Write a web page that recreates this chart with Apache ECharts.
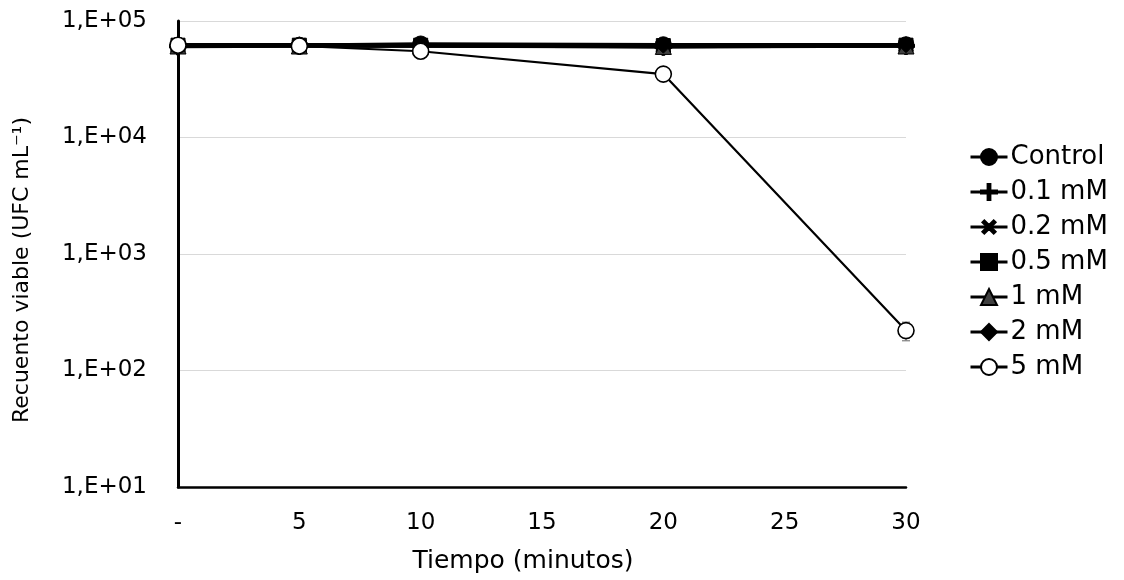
<!DOCTYPE html>
<html><head><meta charset="utf-8">
<script src="https://cdn.jsdelivr.net/npm/echarts@6/dist/echarts.min.js"></script>
<style>html,body{margin:0;padding:0;background:#fff}#c{width:1124px;height:580px}</style>
</head><body><div id="c"></div>
<script>
const times = [0, 5, 10, 20, 30];
const xTicks = ['-', '5', '10', '15', '20', '25', '30'];
const control = [62000, 62000, 63500, 62500, 62500];
const mM01 = [60500, 61000, 61000, 60000, 61000];
const mM02 = [61000, 61500, 61500, 60500, 61500];
const mM05 = [62000, 62000, 62000, 61500, 62000];
const mM1 = [61000, 61000, 61000, 60500, 61000];
const mM2 = [62500, 62500, 62500, 62000, 62500];
const mM5 = [62000, 61000, 55000, 35000, 220];
const mM5err = [0, 0, 0, 0, 40];
const names = ['Control', '0.1 mM', '0.2 mM', '0.5 mM', '1 mM', '2 mM', '5 mM'];

const FONT = 'DejaVu Sans';
const plus = 'path://M3.3,0 H4.7 V3.3 H8 V4.7 H4.7 V8 H3.3 V4.7 H0 V3.3 H3.3 Z';
const pair = arr => times.map((t, i) => [t, arr[i]]);

function lineSeries(name, data, symbol, size, fill, extra) {
  return Object.assign({
    name, type: 'line', data: pair(data), symbol, symbolSize: size,
    lineStyle: { color: '#000', width: 3.5 },
    itemStyle: { color: fill, borderColor: '#000', borderWidth: 1 },
    z: 2
  }, extra || {});
}

const series = [
  lineSeries(names[0], control, 'circle', 16, '#000'),
  lineSeries(names[1], mM01, plus, 17, '#000'),
  lineSeries(names[2], mM02, plus, 17, '#000', { symbolRotate: 45 }),
  lineSeries(names[3], mM05, 'rect', 14, '#000'),
  lineSeries(names[4], mM1, 'triangle', 16, '#404040'),
  lineSeries(names[5], mM2, 'diamond', 16, '#000'),
  lineSeries(names[6], mM5, 'circle', 16, '#fff', {
    lineStyle: { color: '#000', width: 2.2 },
    itemStyle: { color: '#fff', borderColor: '#000', borderWidth: 1.6 },
    z: 4
  }),
  {
    type: 'custom', name: 'err', silent: true, z: 3,
    data: times.map((t, i) => [t, mM5[i] - mM5err[i], mM5[i] + mM5err[i]]),
    renderItem: function (params, api) {
      const lo = api.coord([api.value(0), api.value(1)]);
      const hi = api.coord([api.value(0), api.value(2)]);
      const w = 4;
      const st = { stroke: '#7f7f7f', lineWidth: 1.2 };
      return { type: 'group', children: [
        { type: 'line', shape: { x1: lo[0], y1: lo[1], x2: hi[0], y2: hi[1] }, style: st },
        { type: 'line', shape: { x1: lo[0] - w, y1: lo[1], x2: lo[0] + w, y2: lo[1] }, style: st },
        { type: 'line', shape: { x1: hi[0] - w, y1: hi[1], x2: hi[0] + w, y2: hi[1] }, style: st }
      ]};
    }
  }
];

const chart = echarts.init(document.getElementById('c'), null, { renderer: 'canvas' });
chart.setOption({
  animation: false,
  backgroundColor: '#fff',
  textStyle: { fontFamily: FONT },
  grid: { left: 178, right: 218, top: 21, bottom: 93, containLabel: false },
  legend: {
    data: names,
    orient: 'vertical',
    left: 969, top: 144, padding: 0,
    itemWidth: 37, itemHeight: 20, itemGap: 9,
    lineStyle: { width: 3 },
    textStyle: { fontFamily: FONT, fontSize: 26, color: '#000', padding: [0, 0, 0, -2] },
    inactiveColor: '#ccc'
  },
  xAxis: {
    type: 'value', min: 0, max: 30, interval: 5,
    axisLine: { show: true, onZero: false, lineStyle: { color: '#000', width: 2.5 } },
    axisTick: { show: false },
    splitLine: { show: false },
    axisLabel: { fontSize: 23, color: '#000', fontFamily: FONT, margin: 25,
      formatter: v => xTicks[Math.round(v / 5)] },
    name: 'Tiempo (minutos)', nameLocation: 'middle', nameGap: 62,
    nameTextStyle: { fontSize: 25, color: '#000', fontFamily: FONT, padding: [0, 38, 0, 0] }
  },
  yAxis: {
    type: 'log', logBase: 10, min: 10, max: 100000,
    axisLine: { show: true, lineStyle: { color: '#000', width: 3 } },
    axisTick: { show: false },
    splitLine: { show: true, lineStyle: { color: '#d9d9d9', width: 1 } },
    axisLabel: { fontSize: 23, color: '#000', fontFamily: FONT, margin: 31,
      formatter: v => '1,E+' + String(Math.round(Math.log10(v))).padStart(2, '0') },
    name: 'Recuento viable (UFC mL\u207B\u00B9)', nameLocation: 'middle', nameGap: 145,
    nameTextStyle: { fontSize: 22, color: '#000', fontFamily: FONT, padding: [0, 32, 0, 0] }
  },
  series
});
</script></body></html>
